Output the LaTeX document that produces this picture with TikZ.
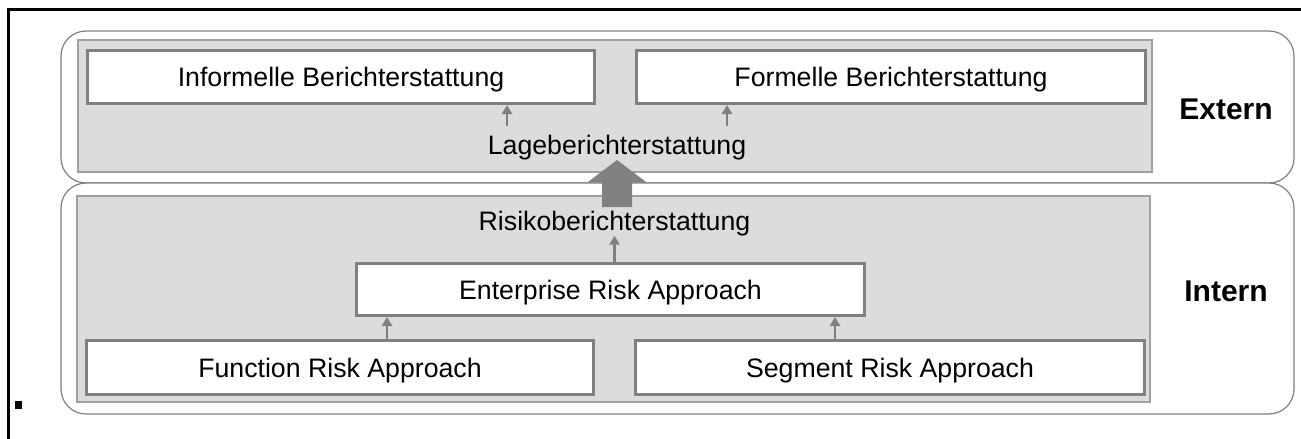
\documentclass[tikz,border=0pt]{standalone}
\usepackage{fontspec}
\setmainfont{Liberation Sans}
\usetikzlibrary{arrows.meta}
\definecolor{panelgray}{RGB}{220,220,220}
\definecolor{panelline}{RGB}{160,160,160}
\definecolor{boxline}{RGB}{128,128,128}
\definecolor{zoneline}{RGB}{128,128,128}
\begin{document}
\begin{tikzpicture}[x=1pt,y=-1pt,
  zone/.style={draw=zoneline, line width=1.2pt, fill=white, rounded corners=25pt},
  panel/.style={draw=panelline, line width=1.5pt, fill=panelgray},
  stepbox/.style={draw=boxline, line width=3pt, fill=white, inner sep=0pt,
    text height=19pt, text depth=0pt, font=\fontsize{26.7}{32}\selectfont},
  plaintext/.style={inner sep=0pt, text height=19pt, text depth=0pt,
    font=\fontsize{26.7}{32}\selectfont},
  sidetext/.style={inner sep=0pt, text height=21.5pt, text depth=0pt,
    font=\fontsize{30}{36}\selectfont\bfseries},
  arr/.style={draw=boxline, line width=2.6pt, -{Triangle[width=10pt,length=9pt]}}
]
\useasboundingbox (0,0) rectangle (1301,439);

% page frame
\draw[line width=3pt] (8,439) -- (8,9) -- (1301,9);

% external / internal zones
\draw[zone] (61,31) rectangle (1294,183);
\draw[zone] (61,183) rectangle (1294,414);

% shaded panels
\draw[panel] (78,40) rectangle (1152,172);
\draw[panel] (77,196) rectangle (1150,402);

% report boxes
\node[stepbox, minimum width=507pt, minimum height=53pt] (inf) at (341,77) {Informelle Berichterstattung};
\node[stepbox, minimum width=509pt, minimum height=53pt] (form) at (891,77) {Formelle Berichterstattung};
\node[stepbox, minimum width=508pt, minimum height=52pt] (ent) at (610.5,289.5) {Enterprise Risk Approach};
\node[stepbox, minimum width=507pt, minimum height=54pt] (fun) at (340,367.5) {Function Risk Approach};
\node[stepbox, minimum width=509pt, minimum height=54pt] (seg) at (890,367.5) {Segment Risk Approach};

% free captions
\node[plaintext] (lage) at (617,145) {Lageberichterstattung};
\node[plaintext] (risk) at (614.5,221) {Risikoberichterstattung};
\node[sidetext] (ext) at (1226,109) {Extern};
\node[sidetext] (int) at (1226,291) {Intern};

% small arrows
\coordinate (l1) at ([xshift=-110pt,yshift=9.5pt]lage.north);
\coordinate (l2) at ([xshift=110pt,yshift=9.5pt]lage.north);
\draw[arr] (l1) -- (l1 |- inf.south);
\draw[arr] (l2) -- (l2 |- form.south);
\draw[arr] (ent.north -| risk.south) -- ([yshift=-5pt]risk.south);
\coordinate (e1) at ([xshift=32pt]ent.south west);
\coordinate (e2) at ([xshift=-31pt]ent.south east);
\draw[arr] (fun.north -| e1) -- (e1);
\draw[arr] (seg.north -| e2) -- (e2);

% block arrow from internal to external
\fill[boxline] (602,207) -- (602,182) -- (588,182) -- (617,160) -- (646,182)
  -- (632,182) -- (632,207) -- cycle;

% bullet mark
\fill (15,401) rectangle (22,409);
\end{tikzpicture}
\end{document}
